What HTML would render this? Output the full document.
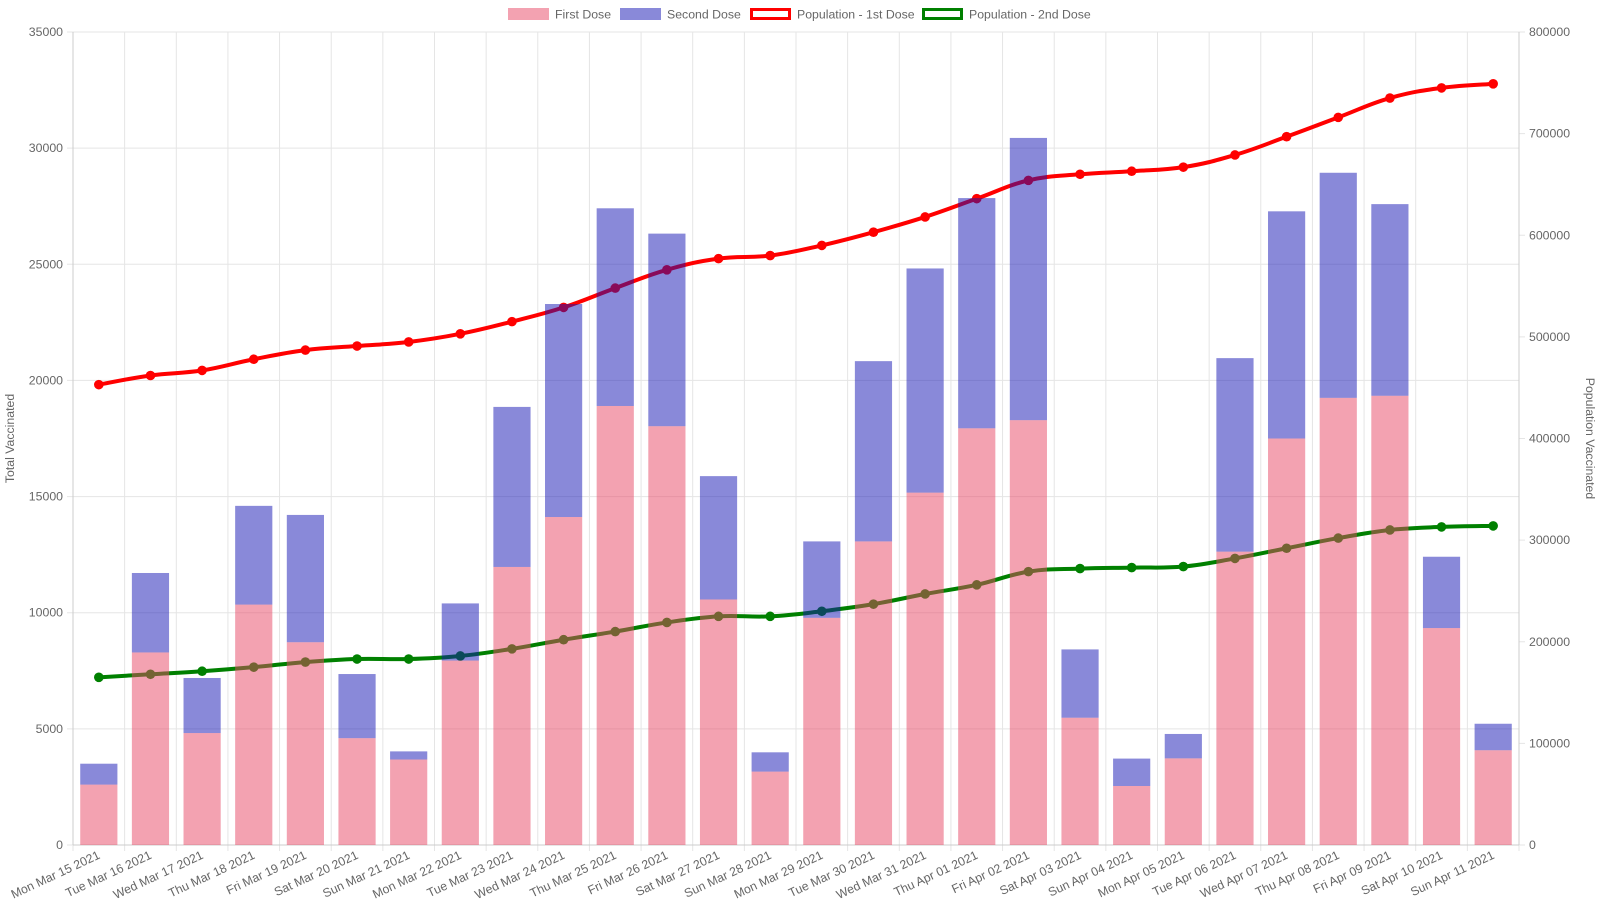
<!DOCTYPE html>
<html><head><meta charset="utf-8"><style>
html,body{margin:0;padding:0;background:#fff;}
svg{display:block;font-family:"Liberation Sans",Arial,sans-serif;}
</style></head><body>
<svg id="chart" width="1600" height="900" viewBox="0 0 1600 900"></svg>
<script>
const categories=["Mon Mar 15 2021","Tue Mar 16 2021","Wed Mar 17 2021","Thu Mar 18 2021","Fri Mar 19 2021","Sat Mar 20 2021","Sun Mar 21 2021","Mon Mar 22 2021","Tue Mar 23 2021","Wed Mar 24 2021","Thu Mar 25 2021","Fri Mar 26 2021","Sat Mar 27 2021","Sun Mar 28 2021","Mon Mar 29 2021","Tue Mar 30 2021","Wed Mar 31 2021","Thu Apr 01 2021","Fri Apr 02 2021","Sat Apr 03 2021","Sun Apr 04 2021","Mon Apr 05 2021","Tue Apr 06 2021","Wed Apr 07 2021","Thu Apr 08 2021","Fri Apr 09 2021","Sat Apr 10 2021","Sun Apr 11 2021"];
const firstDose=[2600,8290,4820,10350,8730,4600,3680,7940,11970,14120,18900,18030,10570,3160,9780,13070,15170,17940,18290,5480,2540,3730,12630,17500,19250,19340,9340,4080];
const secondDose=[900,3420,2370,4250,5480,2760,350,2460,6890,9170,8510,8290,5310,830,3290,7760,9650,9910,12150,2940,1180,1050,8330,9780,9690,8250,3070,1140];
const pop1=[453000,462000,467000,478000,487000,491000,495000,503000,515000,529000,548000,566000,577000,580000,590000,603000,618000,636000,654000,660000,663000,667000,679000,697000,716000,735000,745000,749000];
const pop2=[165000,168000,171000,175000,180000,183000,183000,186000,193000,202000,210000,219000,225000,225000,230000,237000,247000,256000,269000,272000,273000,274000,282000,292000,302000,310000,313000,314000];
const leftTicks=[0,5000,10000,15000,20000,25000,30000,35000];
const rightTicks=[0,100000,200000,300000,400000,500000,600000,700000,800000];

const svg=document.getElementById('chart');
const NS='http://www.w3.org/2000/svg';
const L=73,R=1519,T=32,B=845;
const yL=v=>B-(v/35000)*(B-T);
const yR=v=>B-(v/800000)*(B-T);
const step=(R-L)/categories.length;
const xC=i=>L+step*(i+0.5);
function mk(tag,attrs,parent){const e=document.createElementNS(NS,tag);for(const k in attrs)e.setAttribute(k,attrs[k]);(parent||svg).appendChild(e);return e;}

const grid=mk('g',{});


leftTicks.forEach(v=>{mk('line',{x1:L-6,x2:R,y1:yL(v),y2:yL(v),stroke:'#e5e5e5','stroke-width':1},grid);
 const t=mk('text',{x:L-10,y:yL(v)+4,'text-anchor':'end','font-size':12.3,fill:'#666'});t.textContent=v;
 
 });
rightTicks.forEach(v=>{mk('line',{x1:R,x2:R+6,y1:yR(v),y2:yR(v),stroke:'#e5e5e5'},grid);
 const t=mk('text',{x:R+10,y:yR(v)+4,'text-anchor':'start','font-size':12.3,fill:'#666'});t.textContent=v;
 
 });
for(let i=0;i<=categories.length;i++){mk('line',{x1:L+step*i,x2:L+step*i,y1:T,y2:B+6,stroke:'#e5e5e5'},grid);}
mk('line',{x1:L,x2:L,y1:T,y2:B,stroke:'#ccc'},grid);
mk('line',{x1:R,x2:R,y1:T,y2:B,stroke:'#ccc'},grid);
mk('line',{x1:L,x2:R,y1:B,y2:B,stroke:'#ccc'},grid);

categories.forEach((c,i)=>{const x=xC(i)+2,y=B+13;
 const t=mk('text',{x:x,y:y,'text-anchor':'end','font-size':12.3,fill:'#666',transform:`rotate(-25 ${x} ${y})`});t.textContent=c;
 
 });

const yt=mk('text',{x:14,y:(T+B)/2,'text-anchor':'middle','font-size':12.3,fill:'#666',transform:`rotate(-90 14 ${(T+B)/2})`});yt.textContent='Total Vaccinated';


const yt2=mk('text',{x:1586,y:(T+B)/2,'text-anchor':'middle','font-size':12.3,fill:'#666',transform:`rotate(90 1586 ${(T+B)/2})`});yt2.textContent='Population Vaccinated';



function smooth(pts){let d=`M${pts[0][0]},${pts[0][1]}`;const k=0.2;
 for(let i=0;i<pts.length-1;i++){const p0=pts[i-1]||pts[i],p1=pts[i],p2=pts[i+1],p3=pts[i+2]||p2;
  const c1=[p1[0]+(p2[0]-p0[0])*k,p1[1]+(p2[1]-p0[1])*k],c2=[p2[0]-(p3[0]-p1[0])*k,p2[1]-(p3[1]-p1[1])*k];
  d+=` C${c1[0]},${c1[1]} ${c2[0]},${c2[1]} ${p2[0]},${p2[1]}`;}return d;}
function drawLine(data,color,name){const g=mk('g',{});
 
 
 const pts=data.map((v,i)=>[xC(i),yR(v)]);
 mk('path',{d:smooth(pts),fill:'none',stroke:color,'stroke-width':4},g);
 pts.forEach(p=>{const c=mk('circle',{cx:p[0],cy:p[1],r:4.8,fill:color},g);
  
  });}
drawLine(pop1,'#ff0000','population-1st-line');
drawLine(pop2,'#008000','population-2nd-line');

const bw=step*0.72;
categories.forEach((c,i)=>{const x=xC(i)-bw/2;
 const b1=mk('rect',{x:x,y:yL(firstDose[i]),width:bw,height:B-yL(firstDose[i]),fill:'rgba(232,70,100,0.5)'});
 
 
 const tot=firstDose[i]+secondDose[i];
 const b2=mk('rect',{x:x,y:yL(tot),width:bw,height:yL(firstDose[i])-yL(tot),fill:'rgba(20,20,180,0.5)'});
 
 });

const legend=[['First Dose','box','rgba(232,70,100,0.5)',508],['Second Dose','box','rgba(20,20,180,0.5)',620],['Population - 1st Dose','line','#ff0000',750],['Population - 2nd Dose','line','#008000',922]];
legend.forEach(l=>{const g=mk('g',{});
 
 
 if(l[1]=='box')mk('rect',{x:l[3],y:8,width:41,height:12,fill:l[2]},g);
 else mk('rect',{x:l[3]+1.5,y:9.5,width:38,height:9,fill:'#fff',stroke:l[2],'stroke-width':3},g);
 const t=mk('text',{x:l[3]+47,y:18.5,'font-size':12.3,fill:'#666'},g);t.textContent=l[0];});
</script>
</body></html>
